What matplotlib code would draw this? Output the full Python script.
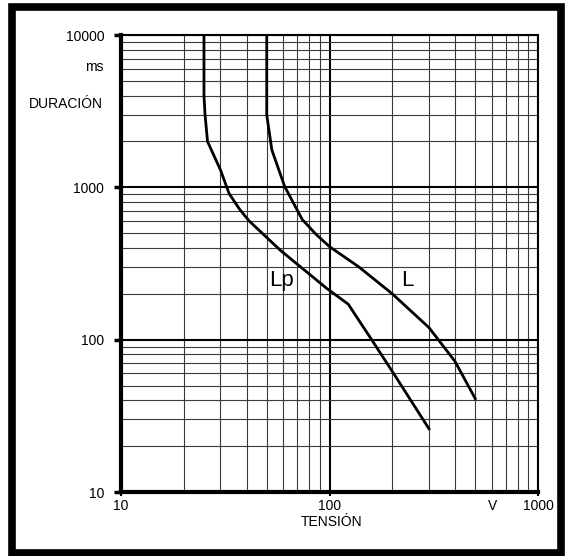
import matplotlib
matplotlib.use('Agg')
import matplotlib.pyplot as plt
from matplotlib.patches import Rectangle
from matplotlib.ticker import LogLocator, NullFormatter, FixedLocator

plt.rcParams['font.family'] = ['Liberation Sans', 'DejaVu Sans']

# curve Lp
lp_v = [25, 25, 25.3, 26, 30, 33, 37, 41, 58, 97, 123, 160, 203, 300]
lp_t = [10000, 4000, 3000, 2000, 1300, 910, 720, 605, 387, 217, 171, 99, 60, 26]

# curve L
l_v = [50, 50, 52.9, 61, 74, 86, 100, 138, 200, 300, 400, 500]
l_t = [10000, 3000, 1760, 1010, 615, 493, 408, 301, 200, 120, 72, 41]

x_ticks = [10, 100, 1000]
y_ticks = [10, 100, 1000, 10000]

fig = plt.figure(figsize=(5.68, 5.56), dpi=100)
ax = fig.add_axes([121 / 568, 1 - 492 / 556, 417 / 568, 457 / 556])

ax.set_xscale('log')
ax.set_yscale('log')
ax.set_xlim(10, 1000)
ax.set_ylim(10, 10000)

# grid
ax.xaxis.set_minor_locator(LogLocator(base=10, subs=range(2, 10)))
ax.yaxis.set_minor_locator(LogLocator(base=10, subs=range(2, 10)))
ax.xaxis.set_minor_formatter(NullFormatter())
ax.yaxis.set_minor_formatter(NullFormatter())
ax.grid(which='minor', color='#3a3a3a', lw=0.8)
ax.grid(which='major', color='black', lw=1.5)
ax.set_axisbelow(True)

ax.plot(lp_v, lp_t, color='black', lw=2.0, solid_joinstyle='round')
ax.plot(l_v, l_t, color='black', lw=2.0, solid_joinstyle='round')

ax.text(59, 246, 'Lp', fontsize=16, ha='center', va='center')
ax.text(235, 246, 'L', fontsize=16, ha='center', va='center')

ax.xaxis.set_major_locator(FixedLocator(x_ticks))
ax.yaxis.set_major_locator(FixedLocator(y_ticks))
ax.set_xticklabels([str(v) for v in x_ticks])
ax.set_yticklabels([str(v) for v in y_ticks])
ax.tick_params(axis='y', which='major', length=5, width=2.5, pad=7, labelsize=10)
ax.tick_params(axis='x', which='major', length=3, width=1.5, pad=2, labelsize=10)
ax.tick_params(which='minor', length=0)

for side in ['left', 'bottom']:
    ax.spines[side].set_linewidth(3)
for side in ['top', 'right']:
    ax.spines[side].set_linewidth(1.5)

# axis captions
ax.text(-0.043, 6170, 'ms', fontsize=10, ha='right', va='center',
        transform=ax.get_yaxis_transform())
ax.text(-0.043, 3550, 'DURACIÓN', fontsize=10, ha='right', va='center',
        transform=ax.get_yaxis_transform())
ax.text(603, -0.031, 'V', fontsize=10, ha='center', va='center',
        transform=ax.get_xaxis_transform())
ax.text(102, -0.066, 'TENSIÓN', fontsize=10, ha='center', va='center',
        transform=ax.get_xaxis_transform())

# outer frame
fig.patches.append(Rectangle((12 / 568, 3 / 556), 549 / 568, 546 / 556,
                             transform=fig.transFigure, fill=False,
                             edgecolor='black', lw=5.5))

fig.savefig('out.png', dpi=100)
